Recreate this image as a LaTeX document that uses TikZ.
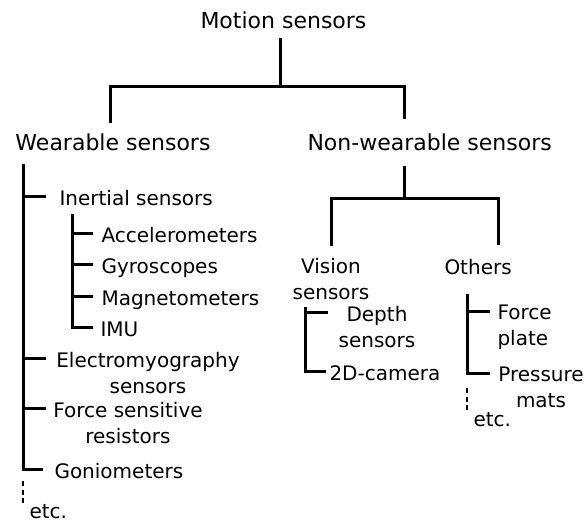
\documentclass[tikz,border=0pt]{standalone}
\usepackage{fontspec}
\setmainfont{DejaVu Sans}
\begin{document}
\begin{tikzpicture}[x=1pt,y=-1pt,line width=3pt,
            head/.style = {inner sep=0pt,
                font=\fontsize{22}{26}\selectfont},
            lab/.style = {inner sep=0pt,
                font=\fontsize{20}{25.5}\selectfont},
            etcline/.style = {line width=2.6pt,
                dash pattern=on 5pt off 3.5pt}]

        \useasboundingbox (0,0) rectangle (586,522);

        % Top level
        \node[head,anchor=base west] (motion) at (199,28) {Motion sensors};
        \node[head,anchor=base west] (wear) at (14,150) {Wearable sensors};
        \node[head,anchor=base west] (nonwear) at (306,150) {Non-wearable sensors};

        % Wearable sensors (two-line labels sit on their last line)
        \node[lab,anchor=base west] (inert) at (58,205) {Inertial sensors};
        \node[lab,anchor=base west] (accel) at (100,242) {Accelerometers};
        \node[lab,anchor=base west] (gyro) at (100,273) {Gyroscopes};
        \node[lab,anchor=base west] (magnet) at (100,305) {Magnetometers};
        \node[lab,anchor=base west] (imu) at (99,336) {IMU};
        \node[lab,align=center,anchor=base] (emg) at (148,393) {Electromyography\\sensors};
        \node[lab,align=center,anchor=base] (fsr) at (128,443) {Force sensitive\\resistors};
        \node[lab,anchor=base west] (gonio) at (53,478) {Goniometers};
        \node[lab,anchor=base west] (etcw) at (28,518) {etc.};

        % Non-wearable sensors
        \node[lab,align=center,anchor=base] (vision) at (331,299) {Vision\\sensors};
        \node[lab,anchor=base west] (others) at (443,274) {Others};
        \node[lab,align=center,anchor=base] (depth) at (377,347) {Depth\\sensors};
        \node[lab,anchor=base west] (cam) at (328,380) {2D-camera};
        \node[lab,align=left,anchor=base west] (plate) at (496,345) {Force\\plate};
        \node[lab,align=center,anchor=base] (press) at (541,407) {Pressure\\mats};
        \node[lab,anchor=base west] (etcn) at (472,426) {etc.};

        % Junctions
        \coordinate (top) at (280,86);
        \coordinate (topl) at (110,86);
        \coordinate (topr) at (404,86);
        \coordinate (nsplit) at (404,198);
        \coordinate (nsplitr) at (498,198);
        \coordinate (wx) at (23,160);
        \coordinate (ix) at (72,210);
        \coordinate (vx) at (305,300);
        \coordinate (ox) at (467,290);

        % Motion sensors branches
        \draw[shorten <=8pt] (motion.south -| top) -- (top);
        \draw[shorten <=9pt,shorten >=13pt] (wear.north -| topl) |- (top) -| (nonwear.north -| topr);

        % Non-wearable branches
        \draw[shorten <=14pt] (nonwear.south -| nsplit) -- (nsplit);
        \draw[shorten <=11pt,shorten >=12pt] (vision.north) |- (nsplit) -| (others.north -| nsplitr);

        % Wearable trunk
        \draw[shorten <=12pt,shorten >=10pt] (wear.south -| wx) |- ([yshift=-8pt]gonio.north west);
        \foreach \n in {inert,emg,fsr}
            \draw (wx |- \n.north) ++(0,8) -- ++(23,0);
        \draw[etcline] (wx |- gonio.north) ++(0,20) -- ++(0,22);

        % Inertial sensors
        \draw[shorten <=7pt,shorten >=6pt] (inert.south -| ix) |- ([yshift=-8pt]imu.north west);
        \foreach \n in {accel,gyro,magnet}
            \draw (ix |- \n.north) ++(0,8) -- ++(21,0);

        % Vision sensors
        \draw[shorten <=6pt,shorten >=2pt] (vision.south -| vx) |- ([yshift=-8pt]cam.north west);
        \draw (vx |- depth.north) ++(0,8) -- ++(23,0);

        % Others
        \draw[shorten <=18pt,shorten >=7pt] (others.south -| ox) |- ([yshift=-8pt]press.north west);
        \draw (ox |- plate.north) ++(0,8) -- ++(23,0);
        \draw[etcline] (ox |- press.north) ++(0,23) -- ++(0,22);

        \end{tikzpicture}
\end{document}
